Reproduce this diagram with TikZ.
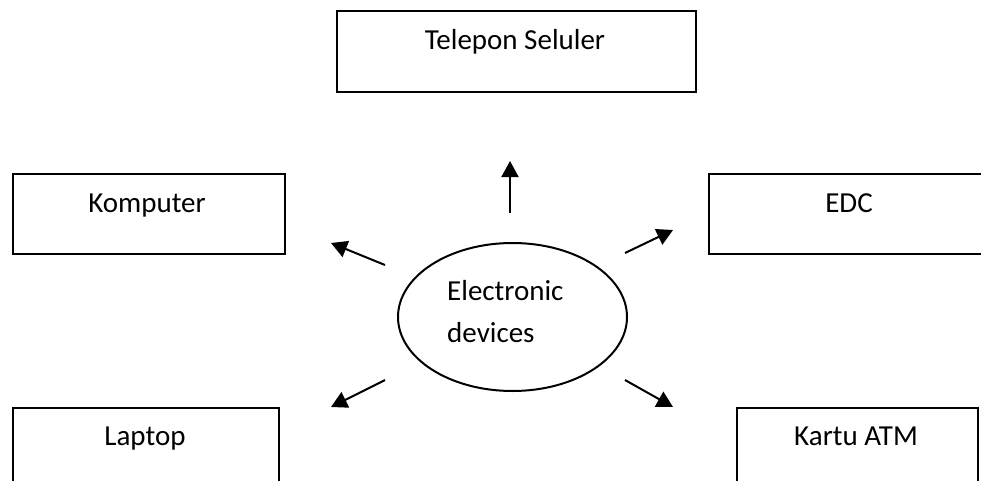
\documentclass[tikz,border=0pt]{standalone}
\usepackage{fontspec}
\setmainfont{Carlito}
\usetikzlibrary{arrows.meta,shapes.geometric}
\tikzset{
  boxshape/.style={draw=black, line width=2pt, rectangle, inner sep=0pt, anchor=north west},
  lbl/.style={font=\fontsize{29}{34}\selectfont, inner sep=0pt, anchor=base},
  arr/.style={line width=2pt, -{Triangle[length=16pt,width=17pt]}},
}
\begin{document}
\begin{tikzpicture}[x=1pt,y=-1pt]
\path[use as bounding box, fill=white] (0,0) rectangle (981,481);
\clip (0,0) rectangle (981,481);
% boxes
\node[boxshape, minimum width=359pt, minimum height=81pt] (tel) at (336,10) {};
\node[boxshape, minimum width=272pt, minimum height=80pt] (kom) at (12,173) {};
\node[boxshape, minimum width=320pt, minimum height=80pt] (edc) at (708,173) {};
\node[boxshape, minimum width=266pt, minimum height=120pt] (lap) at (12,407) {};
\node[boxshape, minimum width=241pt, minimum height=120pt] (atm) at (736,407) {};
% labels
\node[lbl] (teltxt) at (515,50) {Telepon Seluler};
\node[lbl] (komtxt) at (147,212) {Komputer};
\node[lbl] (edctxt) at (849,212) {EDC};
\node[lbl] (laptxt) at (145,445) {Laptop};
\node[lbl] (atmtxt) at (856,445) {Kartu ATM};
% ellipse
\node[draw=black, line width=2pt, ellipse, minimum width=229pt, minimum height=148pt, inner sep=0pt] (dev) at (512.5,317) {};
\node[lbl, anchor=base west] (devtxt1) at (447,300) {Electronic};
\node[lbl, anchor=base west] (devtxt2) at (447,342) {devices};
% arrow coordinates
\coordinate (a1s) at (510,213); \coordinate (a1e) at (510,161);
\coordinate (a2s) at (385,265); \coordinate (a2e) at (331,243);
\coordinate (a3s) at (625,253); \coordinate (a3e) at (673,230);
\coordinate (a4s) at (385,380); \coordinate (a4e) at (331,407);
\coordinate (a5s) at (625,380); \coordinate (a5e) at (673,407);
\draw[arr] (a1s) -- (a1e);
\draw[arr] (a2s) -- (a2e);
\draw[arr] (a3s) -- (a3e);
\draw[arr] (a4s) -- (a4e);
\draw[arr] (a5s) -- (a5e);
\end{tikzpicture}
\end{document}
